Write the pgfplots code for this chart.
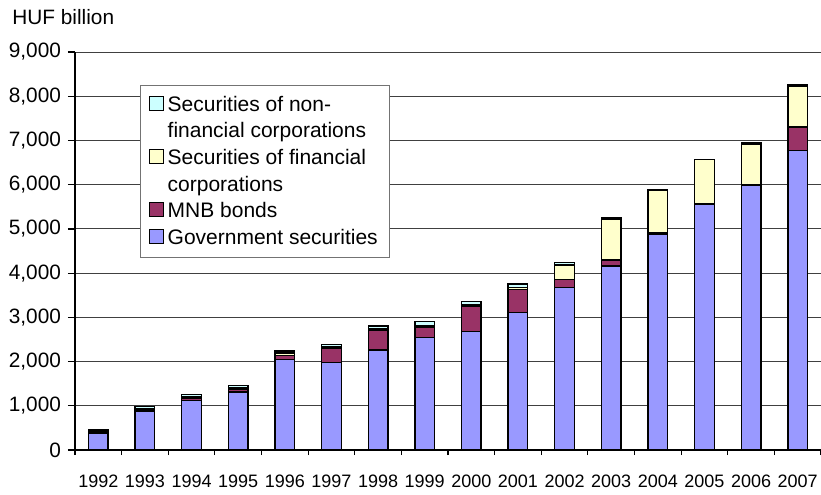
\documentclass[border=0pt]{standalone}
\usepackage{pgfplots}
\pgfplotsset{compat=1.18}
\usepackage{pgfplotstable}
\usepackage{fontspec}
\setmainfont{Liberation Sans}

\definecolor{govc}{HTML}{9999FF}
\definecolor{mnbc}{HTML}{993366}
\definecolor{finc}{HTML}{FFFFCC}
\definecolor{nfinc}{HTML}{CCFFFF}

% HUF billion
\pgfplotstableread{
idx year gov  mnb fin nonfin
0   1992 380  50  20  20
1   1993 880  20  30  50
2   1994 1125 40  30  65
3   1995 1310 60  30  60
4   1996 2050 90  50  50
5   1997 1985 315 30  50
6   1998 2260 450 30  60
7   1999 2550 230 30  100
8   2000 2685 555 40  80
9   2001 3105 530 40  80
10  2002 3680 180 325 60
11  2003 4165 135 920 30
12  2004 4885 30  950 30
13  2005 5555 20  990 0
14  2006 5990 5   925 30
15  2007 6770 530 920 35
}\securities

\begin{document}
\begin{tikzpicture}
\path[use as bounding box] (-37.5pt,-22pt) rectangle (373pt,225pt);
\begin{axis}[
  scale only axis, width=373pt, height=199pt,
  xmin=-0.5, xmax=15.5, ymin=0, ymax=9000,
  ybar stacked, bar width=0.42,
  axis lines*=left,
  axis line style={black, line width=0.6pt},
  xtick=data,
  xticklabels={1992,1993,1994,1995,1996,1997,1998,1999,2000,2001,2002,2003,2004,2005,2006,2007},
  minor xtick={-0.5,0.5,...,15.5},
  ytick={0,1000,...,9000},
  tick align=outside,
  major tick length=3.5pt, minor tick length=2.5pt,
  major x tick style={draw=none},
  tick style={black, line width=0.6pt},
  ymajorgrids, grid style={black!75, line width=0.5pt},
  /pgf/number format/assume math mode=true,
  /pgf/number format/1000 sep={,},
  scaled y ticks=false,
  yticklabel style={font=\fontsize{10.4}{12}\selectfont},
  xticklabel style={font=\fontsize{9}{11}\selectfont, yshift=-5.5pt},
  every axis plot/.append style={draw=black, line width=0.7pt},
  legend image code/.code={\draw[#1,draw=black,line width=0.5pt] (0pt,-2.5pt) rectangle (7pt,4.5pt);},
  legend style={at={(0.0871,0.917)}, anchor=north west, draw=black!55, line width=0.7pt,
    font=\fontsize{10.5}{12}\selectfont,
    cells={anchor=west, text height=7.8pt, text depth=2.5pt, inner ysep=1.25pt},
    inner xsep=4pt, inner ysep=3pt, row sep=0pt},
]
% legend rows first: two of the entries run over two lines
\addlegendimage{fill=nfinc}
\addlegendimage{empty legend}
\addlegendimage{fill=finc}
\addlegendimage{empty legend}
\addlegendimage{fill=mnbc}
\addlegendimage{fill=govc}
\addplot[fill=govc] table[x=idx,y=gov]{\securities};
\addplot[fill=mnbc] table[x=idx,y=mnb]{\securities};
\addplot[fill=finc] table[x=idx,y=fin]{\securities};
\addplot[fill=nfinc] table[x=idx,y=nonfin]{\securities};
\legend{Securities of non-, financial corporations, Securities of financial, corporations, MNB bonds, Government securities}
\end{axis}
\node[anchor=base west, inner sep=0pt, font=\fontsize{10.4}{12}\selectfont] at (-31.5pt,212.85pt) {HUF billion};
\end{tikzpicture}
\end{document}
